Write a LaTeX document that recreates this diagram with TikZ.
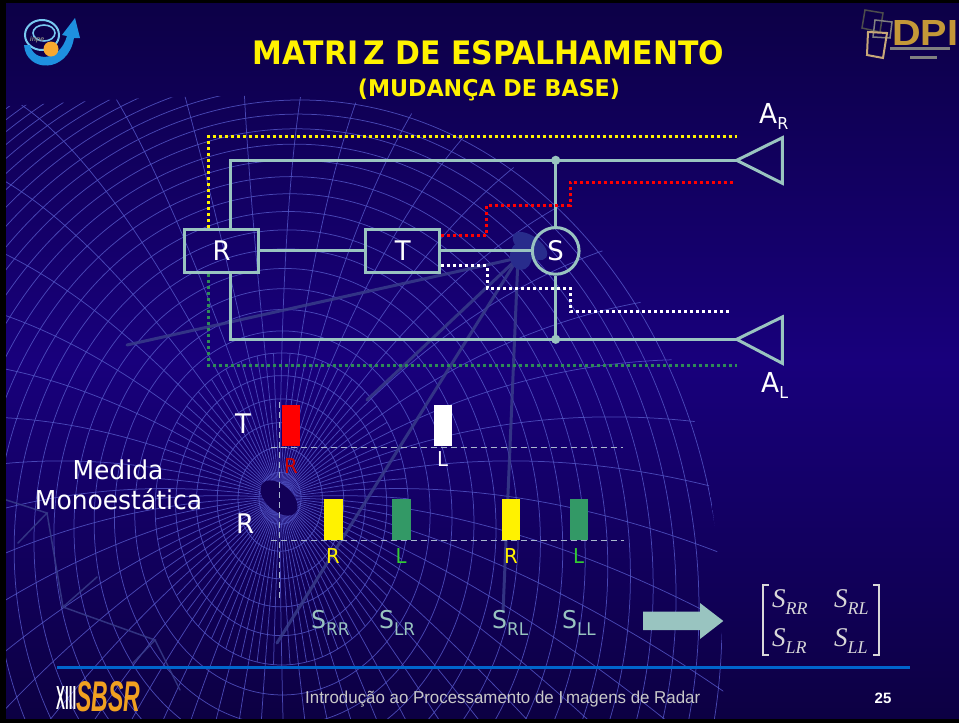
\documentclass[tikz,border=0pt]{standalone}
\usepackage{fontspec}
\setmainfont{DejaVu Sans}[FakeStretch=0.96]
\newfontfamily\timesfont{Liberation Serif}
\newfontfamily\arialfont{Liberation Sans}
\usetikzlibrary{shapes.geometric}

\definecolor{wire}{RGB}{153,196,192}
\definecolor{bgtop}{RGB}{12,0,70}
\definecolor{bgmid}{RGB}{24,0,124}
\definecolor{bgbot}{RGB}{12,0,66}
\definecolor{gridc}{RGB}{82,84,196}
\definecolor{strutc}{RGB}{56,60,138}
\definecolor{hornc}{RGB}{40,44,140}
\definecolor{hubc}{RGB}{18,0,88}
\definecolor{dotgreen}{RGB}{46,139,87}
\definecolor{bargreen}{RGB}{51,153,102}
\definecolor{lblgreen}{RGB}{51,204,51}
\definecolor{lblred}{RGB}{204,0,0}
\definecolor{guide}{RGB}{170,185,205}
\definecolor{rulec}{RGB}{0,102,204}
\definecolor{mtx}{RGB}{216,216,216}
\definecolor{footgray}{RGB}{200,200,200}
\definecolor{dpigold}{RGB}{196,152,56}
\definecolor{dpitan}{RGB}{200,168,120}
\definecolor{sbsrorange}{RGB}{240,160,32}
\definecolor{inpeblue}{RGB}{30,144,224}
\definecolor{inpelight}{RGB}{120,200,240}
\definecolor{inpeorange}{RGB}{248,168,48}

% S with a lowered subscript, used under the bars
\newcommand\slab[1]{\fontsize{24.5}{24.5}\selectfont S\raisebox{-7pt}{\fontsize{17.5}{17.5}\selectfont #1}}
% italic serif S with subscript, used in the matrix
\newcommand\mslab[1]{\timesfont\itshape\fontsize{27}{27}\selectfont S\raisebox{-7pt}{\fontsize{18}{18}\selectfont #1}}

\begin{document}
\begin{tikzpicture}[x=1pt,y=-1pt,
  wireline/.style={draw=wire, line width=3pt},
  blockbox/.style={wireline, rectangle, minimum width=74pt, minimum height=43.5pt,
    inner sep=0pt, text=white, font=\fontsize{27}{27}\selectfont},
  dotline/.style={line width=3pt, dash pattern=on 3pt off 3pt},
  gridline/.style={draw=gridc, line width=0.75pt, opacity=0.85},
  strut/.style={draw=strutc, line width=3pt, opacity=0.85, line cap=round},
  guideline/.style={draw=guide, line width=1.3pt, dash pattern=on 6pt off 4pt},
  pulse/.style={rectangle, inner sep=0pt, minimum width=18.3pt, minimum height=40.5pt, anchor=south west},
  biglbl/.style={text=white, anchor=base west, inner sep=0pt, font=\fontsize{27}{27}\selectfont},
  smalllbl/.style={anchor=base, inner sep=0pt, font=\fontsize{20.5}{20.5}\selectfont},
  slabel/.style={text=wire, anchor=base west, inner sep=0pt},
  mentry/.style={text=mtx, anchor=base west, inner sep=0pt}]

\useasboundingbox (0,0) rectangle (959,723);

% background
\shade[top color=bgtop, bottom color=bgbot, middle color=bgmid] (0,0) rectangle (959,723);

% wireframe of the dish reflector
\begin{scope}
  \clip plot[smooth] coordinates {(-20,108) (150,98) (300,97) (420,116) (520,172)
        (600,248) (660,335) (700,440) (718,560) (724,723)} -- (-20,740) -- cycle;
  \foreach \a in {0,7.5,...,352.5}
    \draw[gridline] plot[domain=0:1.5, samples=30, smooth, variable=\t]
      ({280+20*\t*\t+422*\t*cos(\a)}, {498+122*\t*\t+520*\t*sin(\a)});
  \foreach \a in {3.75,11.25,...,356.25}
    \draw[gridline] plot[domain=0:0.3, samples=8, smooth, variable=\t]
      ({280+20*\t*\t+422*\t*cos(\a)}, {498+122*\t*\t+520*\t*sin(\a)});
  \foreach \t in {0.05,0.1,...,1.51}
    \draw[gridline] ({280+20*\t*\t}, {498+122*\t*\t}) ellipse [x radius=422*\t, y radius=520*\t];
\end{scope}

% back truss of the dish
\draw[strut, line width=1.5pt] (0,498) -- (47,513) -- (18,543);
\draw[strut, line width=1.5pt] (47,513) -- (63,607) -- (97,577);
\draw[strut, line width=1.5pt] (63,607) -- (155,640) -- (133,663);
\draw[strut, line width=1.5pt] (155,640) -- (180,690);

% feed struts and horn
\coordinate (horn) at (518,258);
\draw[strut] (horn) -- (127,345);
\draw[strut] (horn) -- (367,400);
\draw[strut] (horn) -- (277,643);
\draw[strut] (horn) -- (503,612);
\fill[hornc, rotate around={-35:(530,246)}] (530,246) ellipse [x radius=20, y radius=10];
\fill[hornc] (521,256) ellipse [x radius=11, y radius=14];

% vertex hub of the dish
\node[ellipse, fill=hubc, minimum width=44pt, minimum height=26pt, inner sep=0pt, rotate=-42] (hub) at (279,498) {};

% ---------- circuit ----------
\node[blockbox] (R) at (221.7,250.9) {R};
\node[blockbox] (T) at (402.8,250.9) {T};
\node[wireline, circle, minimum size=46.7pt, inner sep=0pt, text=white,
      font=\fontsize{27}{27}\selectfont] (S) at (555.7,250.9) {S};

\coordinate (jt) at (555.7,160.3);
\coordinate (jb) at (555.7,339.3);
\coordinate (AR) at (736.7,160.3);
\coordinate (AL) at (736.7,339.3);

\draw[wireline] (R) -- (T);
\draw[wireline] (T) -- (S);
\draw[wireline] ([xshift=8.6pt]R.north) |- (jt) -- (AR);
\draw[wireline] ([xshift=8.6pt]R.south) |- (jb) -- (AL);
\draw[wireline] (jt) -- (S.north);
\draw[wireline] (jb) -- (S.south);
\fill[wire] (jt) circle (4.6pt);
\fill[wire] (jb) circle (4.6pt);

% horn antennas
\draw[wireline, line join=miter] (AR) -- (782.3,137.7) -- (782.3,183.3) -- cycle;
\draw[wireline, line join=miter] (AL) -- (782.3,317) -- (782.3,363.3) -- cycle;
\node[text=white, anchor=base west, inner sep=0pt] (lAR) at (759,123)
  {\fontsize{27.5}{27.5}\selectfont A\raisebox{-6pt}{\fontsize{16.5}{16.5}\selectfont R}};
\node[text=white, anchor=base west, inner sep=0pt] (lAL) at (761,392)
  {\fontsize{27.5}{27.5}\selectfont A\raisebox{-6pt}{\fontsize{16.5}{16.5}\selectfont L}};

% polarisation paths
\coordinate (yend) at (736.7,136);
\coordinate (gend) at (736.7,365);
\coordinate (rend) at (733,182.7);
\coordinate (wend) at (730,311);
\draw[dotline, yellow] ([xshift=-13.5pt]R.north) |- (yend);
\draw[dotline, dotgreen] ([xshift=-13.5pt]R.south) |- (gend);
\draw[dotline, red] ([yshift=15.2pt]T.east) -- ++(45.4,0) -- ++(0,-30) -- ++(83.3,0) -- ++(0,-23) -- (rend);
\draw[dotline, white] ([yshift=-14.8pt]T.east) -- ++(45.7,0) -- ++(0,22.3) -- ++(83,0) -- ++(0,23) -- (wend);

% ---------- pulse timing ----------
\coordinate (vtop) at (279.3,402);
\coordinate (vbot) at (279.3,598);
\coordinate (htl) at (270.7,447.3);
\coordinate (htr) at (623,447.3);
\coordinate (hbl) at (270.7,540.7);
\coordinate (hbr) at (624,540.7);
\draw[guideline] (vtop) -- (vbot);
\draw[guideline] (htl) -- (htr);
\draw[guideline] (hbl) -- (hbr);

\node[pulse, fill=red] (tR) at (281.7,446) {};
\node[pulse, fill=white] (tL) at (433.3,446) {};
\node[pulse, fill=yellow] (rR1) at (324,540) {};
\node[pulse, fill=bargreen] (rL1) at (392,540) {};
\node[pulse, fill=yellow] (rR2) at (501.7,540) {};
\node[pulse, fill=bargreen] (rL2) at (569.3,540) {};

\node[smalllbl, text=lblred] (ltR) at (291,473) {R};
\node[smalllbl, text=white] (ltL) at (442.5,466) {L};
\node[smalllbl, text=yellow] (lrR1) at (333,563) {R};
\node[smalllbl, text=lblgreen] (lrL1) at (401,563) {L};
\node[smalllbl, text=yellow] (lrR2) at (511,563) {R};
\node[smalllbl, text=lblgreen] (lrL2) at (578.5,563) {L};

\node[biglbl] (lT) at (235,433) {T};
\node[biglbl] (lR) at (236,533) {R};
\node[text=white, anchor=base, inner sep=0pt, font=\fontsize{26}{26}\selectfont] (med1) at (118,479) {Medida};
\node[text=white, anchor=base, inner sep=0pt, font=\fontsize{26}{26}\selectfont] (med2) at (118.5,509) {Monoestática};

% scattering terms
\node[slabel] (sRR) at (311,628) {\slab{RR}};
\node[slabel] (sLR) at (379,628) {\slab{LR}};
\node[slabel] (sRL) at (492,628) {\slab{RL}};
\node[slabel] (sLL) at (562,628) {\slab{LL}};

% arrow to the matrix
\fill[wire] (643,611.7) -- (700,611.7) -- (700,603) -- (723.3,621) -- (700,639) -- (700,630) -- (643,630) -- cycle;

% scattering matrix
\draw[mtx, line width=1.4pt] (769,585) -- (763,585) -- (763,655) -- (769,655);
\draw[mtx, line width=1.4pt] (873,585) -- (879,585) -- (879,655) -- (873,655);
\node[mentry] (m11) at (772,607) {\mslab{RR}};
\node[mentry] (m12) at (834,607) {\mslab{RL}};
\node[mentry] (m21) at (772,646) {\mslab{LR}};
\node[mentry] (m22) at (834,646) {\mslab{LL}};

% ---------- title ----------
\node[text=yellow, anchor=base, inner sep=0pt, font=\bfseries] (title) at (488.5,64)
  {\resizebox{471pt}{24pt}{MATRI\,Z DE ESPALHAMENTO}};
\node[text=yellow, anchor=base, inner sep=0pt, font=\bfseries] (subtitle) at (489,96)
  {\resizebox{262pt}{!}{\fontsize{22}{22}\selectfont (MUDANÇA DE BASE)}};

% ---------- footer ----------
\draw[rulec, line width=3pt] (57,667.5) -- (910,667.5);
\node[text=footgray, anchor=base west, inner sep=0pt] (foot) at (305,703)
  {\resizebox{395pt}{12.5pt}{\arialfont Introdução ao Processamento de I\,magens de Radar}};
\node[text=white, anchor=base, inner sep=0pt, font=\arialfont\bfseries\fontsize{15}{15}\selectfont] (page) at (883,703) {25};

% SBSR mark
\node[text=white, anchor=base west, inner sep=0pt] (xiii) at (56,709)
  {\resizebox{20pt}{23pt}{\arialfont\bfseries XIII}};
\node[text=sbsrorange, anchor=base west, inner sep=0pt] (sbsr) at (76,711)
  {\resizebox{64pt}{30pt}{\arialfont\bfseries\itshape SBSR}};

% INPE mark
\draw[inpelight, line width=2pt] (42,35) ellipse [x radius=17, y radius=15];
\draw[inpelight, line width=1.6pt] (44,33) ellipse [x radius=11, y radius=8];
\fill[inpeblue] (24,45) .. controls (26,73) and (68,74) .. (74,38) -- (80,38) -- (75,18)
  -- (62,35) -- (67,36) .. controls (60,61) and (34,63) .. (30,45) -- cycle;
\fill[inpeorange] (51,49) circle (7.5pt);
\node[text=gray, inner sep=0pt, font=\arialfont\bfseries\itshape\fontsize{7}{7}\selectfont] (inpe) at (37,40) {inpe};

% DPI mark
\draw[gray!60!black, line width=1.5pt] (865,10) -- (883,13) -- (880,32) -- (862,28) -- cycle;
\draw[gray, line width=1.5pt] (875,20) -- (892,22) -- (890,38) -- (873,37) -- cycle;
\draw[dpitan, line width=2pt] (868,32) -- (887,33) -- (883,58) -- (867,55) -- cycle;
\node[text=dpigold, anchor=base west, inner sep=0pt] (dpi) at (892,45)
  {\resizebox{66pt}{25pt}{\arialfont\bfseries DPI}};
\fill[gray] (890,47) rectangle (950,50);
\fill[gray] (910,56) rectangle (937,59);

% slide frame
\fill[black] (0,0) rectangle (6,723);
\fill[black] (0,719) rectangle (959,723);
\fill[black] (0,0) rectangle (959,3);
\end{tikzpicture}
\end{document}
